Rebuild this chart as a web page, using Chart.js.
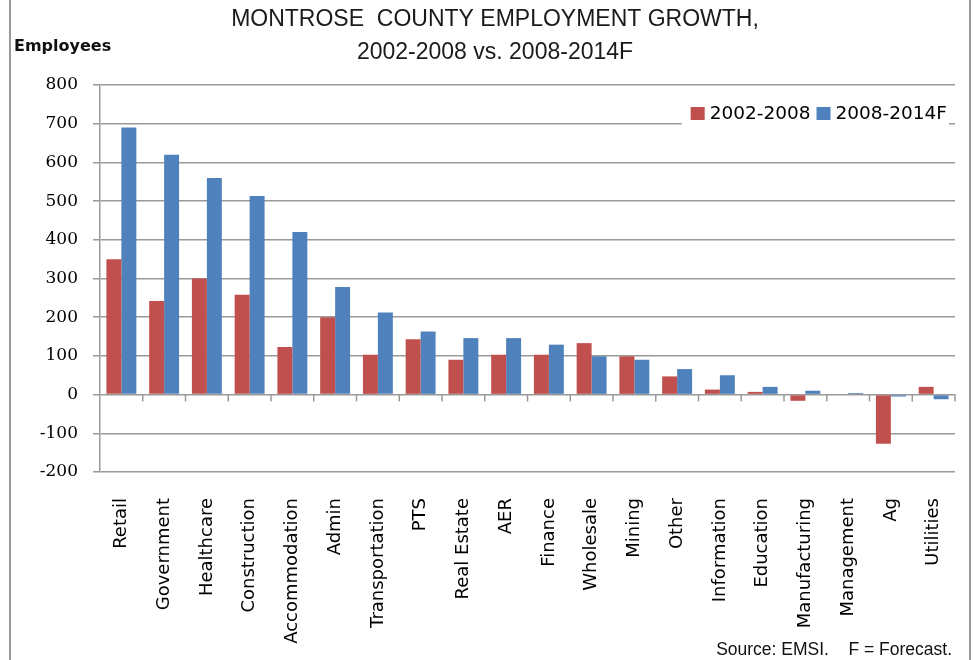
<!DOCTYPE html>
<html>
<head>
<meta charset="utf-8">
<script src="https://cdn.jsdelivr.net/npm/chart.js@4/dist/chart.umd.min.js"></script>
<style>
body { margin: 0; background: #fff; }
#wrap { position: relative; width: 974px; height: 660px; }
#frame { position: absolute; left: 9px; top: 0; width: 958px; height: 660px;
  border-left: 2px solid #9a9a9a; border-right: 2px solid #9a9a9a; pointer-events: none; }
#ylab { position: absolute; left: 14px; top: 36px; font: bold 16px "DejaVu Sans"; color: #111; }
#note { position: absolute; right: 22px; top: 639px; font: 17.5px "Liberation Sans"; color: #111; white-space: pre; }
</style>
</head>
<body>
<div id="wrap">
  <canvas id="growth" width="974" height="660"></canvas>
  <div id="ylab">Employees</div>
  <div id="note">Source: EMSI.    F = Forecast.</div>
  <div id="frame"></div>
</div>
<script>
// chart values
var industries = ['Retail', 'Government', 'Healthcare', 'Construction', 'Accommodation', 'Admin',
    'Transportation', 'PTS', 'Real Estate', 'AER', 'Finance', 'Wholesale', 'Mining', 'Other',
    'Information', 'Education', 'Manufacturing', 'Management', 'Ag', 'Utilities'];
var growth0208 = [350, 242, 300, 258, 123, 200, 103, 143, 90, 103, 103, 133, 99, 47, 13, 7, -16, 0, -127, 20];
var growth0814 = [690, 620, 560, 513, 420, 278, 212, 163, 146, 146, 129, 99, 90, 66, 50, 20, 10, 4, -5, -12];
var seriesNames = ['2002-2008', '2008-2014F'];
var titleLines = ['MONTROSE  COUNTY EMPLOYMENT GROWTH,', '2002-2008 vs. 2008-2014F'];

var gridGray = '#999999';

// little tick marks along the zero line, between categories
var zeroTicks = {
    id: 'zeroTicks',
    beforeDatasetsDraw: function(chart) {
        var x = chart.scales.x, y = chart.scales.y;
        var ctx = chart.ctx;
        var y0 = y.getPixelForValue(0);
        ctx.save();
        ctx.strokeStyle = gridGray;
        ctx.lineWidth = 1.5;
        ctx.beginPath();
        for (var i = 0; i < industries.length; i++) {
            var px = i < industries.length - 1
                ? (x.getPixelForValue(i) + x.getPixelForValue(i + 1)) / 2
                : chart.chartArea.right;
            ctx.moveTo(px, y0);
            ctx.lineTo(px, y0 + 7);
        }
        ctx.stroke();
        ctx.restore();
    }
};

// legend inside the plot, top right, on a white patch
var cornerLegend = {
    id: 'cornerLegend',
    afterDraw: function(chart) {
        var ctx = chart.ctx;
        var sets = chart.data.datasets;
        ctx.save();
        ctx.font = '18.5px "DejaVu Sans"';
        var box = 14, gapBox = 5, gapItem = 6;
        var total = 0;
        sets.forEach(function(ds, i) {
            total += box + gapBox + ctx.measureText(ds.label).width + (i ? gapItem : 0);
        });
        var right = chart.chartArea.right - 8;
        var x = right - total;
        var cy = 113;
        ctx.fillStyle = '#fff';
        ctx.fillRect(x - 9, 99, total + 11, 28);
        ctx.textBaseline = 'middle';
        sets.forEach(function(ds, i) {
            if (i) x += gapItem;
            ctx.fillStyle = ds.backgroundColor;
            ctx.fillRect(x, cy - 6, box, 13);
            x += box + gapBox;
            ctx.fillStyle = '#000';
            ctx.fillText(ds.label, x, cy + 1);
            x += ctx.measureText(ds.label).width;
        });
        ctx.restore();
    }
};

var ctx = document.getElementById('growth');
var myChart = new Chart(ctx, {
    type: 'bar',
    data: {
        labels: industries,
        datasets: [
            { label: seriesNames[0], data: growth0208, backgroundColor: '#C0504D' },
            { label: seriesNames[1], data: growth0814, backgroundColor: '#4F81BD' }
        ]
    },
    options: {
        responsive: false,
        animation: false,
        devicePixelRatio: 1,
        layout: { padding: { left: 35, right: 19, top: 0, bottom: 0 } },
        datasets: { bar: { categoryPercentage: 0.7, barPercentage: 1.0 } },
        plugins: {
            legend: { display: false },
            tooltip: { enabled: false },
            title: {
                display: true,
                text: titleLines,
                color: '#1a1a1a',
                font: { family: 'Liberation Sans', size: 23, weight: 'normal', lineHeight: 33 / 23 },
                padding: { top: 3, bottom: 16 }
            }
        },
        scales: {
            x: {
                grid: { display: false },
                border: { display: false },
                ticks: {
                    autoSkip: false,
                    minRotation: 90,
                    maxRotation: 90,
                    padding: 18,
                    color: '#000',
                    font: { family: 'DejaVu Sans', size: 18 }
                },
                afterFit: function(scale) { scale.height = 188; }
            },
            y: {
                min: -200,
                max: 800,
                ticks: {
                    stepSize: 100,
                    padding: 15,
                    color: '#000',
                    font: { family: 'DejaVu Serif', size: 17 }
                },
                grid: { color: gridGray, lineWidth: 1.5, tickLength: 7 },
                border: { color: gridGray, width: 1.5 },
                afterFit: function(scale) { scale.width = 65; }
            }
        }
    },
    plugins: [zeroTicks, cornerLegend]
});
</script>
</body>
</html>
